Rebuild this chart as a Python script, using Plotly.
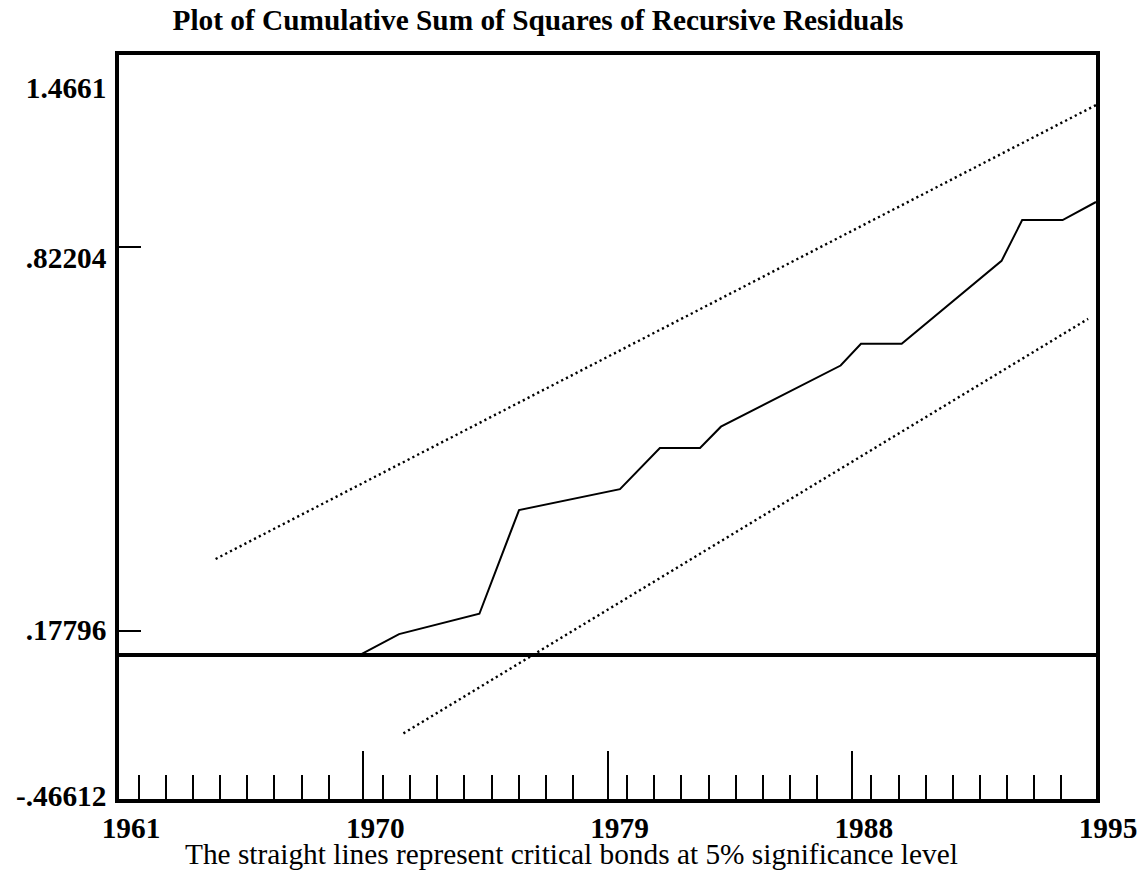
import plotly.graph_objects as go

# Period index along the horizontal axis (0 = 1961, the axis spans 36 units)
period = [8.88, 10.32, 13.28, 14.74, 18.46, 19.93, 21.41, 22.18, 26.59,
          27.34, 28.84, 32.52, 33.28, 34.77, 36.0]
# Cumulative sum of squares of recursive residuals
cusumsq = [0.0, 0.046, 0.091, 0.320, 0.366, 0.457, 0.457, 0.504, 0.639,
           0.687, 0.687, 0.870, 0.960, 0.960, 1.0]

# 5% critical bounds (straight lines)
upper_period = [3.56, 36.0]
upper_bound = [0.212, 1.214]
lower_period = [10.48, 35.71]
lower_bound = [-0.173, 0.742]

# Date labels on the horizontal axis
date_ticks = [0, 9, 18, 27, 36]
date_labels = ["1961", "1970", "1979", "1988", "1995"]

# Value labels on the vertical axis
value_label_pos = [1.2517, 0.8764, 0.0563, -0.3113]
value_labels = ["1.4661", ".82204", ".17796", "-.46612"]
value_mark_pos = [0.9013, 0.0536]

SERIF = "Liberation Serif, Times New Roman, serif"
FS = 29.33

fig = go.Figure()

fig.add_trace(go.Scatter(
    x=upper_period, y=upper_bound, mode="lines",
    line=dict(color="black", width=2.4, dash="2.2px,3.2px"),
    showlegend=False, hoverinfo="skip"))
fig.add_trace(go.Scatter(
    x=lower_period, y=lower_bound, mode="lines",
    line=dict(color="black", width=2.4, dash="2.2px,3.2px"),
    showlegend=False, hoverinfo="skip"))
fig.add_trace(go.Scatter(
    x=period, y=cusumsq, mode="lines",
    line=dict(color="black", width=2),
    showlegend=False))

minor_x = [0.726 + k for k in range(35) if k not in (8, 17, 26)]

fig.update_layout(
    width=1138, height=880,
    margin=dict(l=119, r=42, t=55, b=81, autoexpand=False),
    paper_bgcolor="white", plot_bgcolor="white",
    font=dict(family=SERIF, color="black", size=FS),
    title=dict(
        text="<b>Plot of Cumulative Sum of Squares of Recursive Residuals</b>",
        xref="container", yref="container",
        x=538 / 1138, xanchor="center",
        y=1 - 19.75 / 880, yanchor="middle",
        font=dict(family=SERIF, size=FS, color="black")),
    xaxis=dict(
        range=[0, 36], showgrid=False, zeroline=False,
        showline=True, linecolor="black", linewidth=3.5, mirror=True,
        tickmode="array", tickvals=date_ticks, ticktext=date_labels,
        ticks="inside", ticklen=48, tickwidth=2, tickcolor="black",
        tickfont=dict(family=SERIF, size=FS, color="black", weight="bold"),
        ticklabelshift=12,
        minor=dict(tickmode="array", tickvals=minor_x, ticks="inside",
                   ticklen=24, tickwidth=2, tickcolor="black", showgrid=False),
        automargin=False, fixedrange=True),
    yaxis=dict(
        range=[-0.3179, 1.3245], showgrid=False,
        zeroline=True, zerolinecolor="black", zerolinewidth=4,
        showline=True, linecolor="black", linewidth=3.5, mirror=True,
        tickmode="array", tickvals=value_label_pos, ticktext=value_labels,
        ticks="",
        tickfont=dict(family=SERIF, size=FS, color="black", weight="bold"),
        ticklabelstandoff=3,
        minor=dict(tickmode="array", tickvals=value_mark_pos, ticks="inside",
                   ticklen=22, tickwidth=2, tickcolor="black", showgrid=False),
        automargin=False, fixedrange=True),
    annotations=[dict(
        text="The straight lines represent critical bonds at 5% significance level",
        xref="paper", yref="paper",
        x=(571.5 - 119) / 977, y=(799 - 854) / 744,
        xanchor="center", yanchor="middle", showarrow=False,
        font=dict(family=SERIF, size=FS, color="black"))],
)

fig.write_html("out.html")
